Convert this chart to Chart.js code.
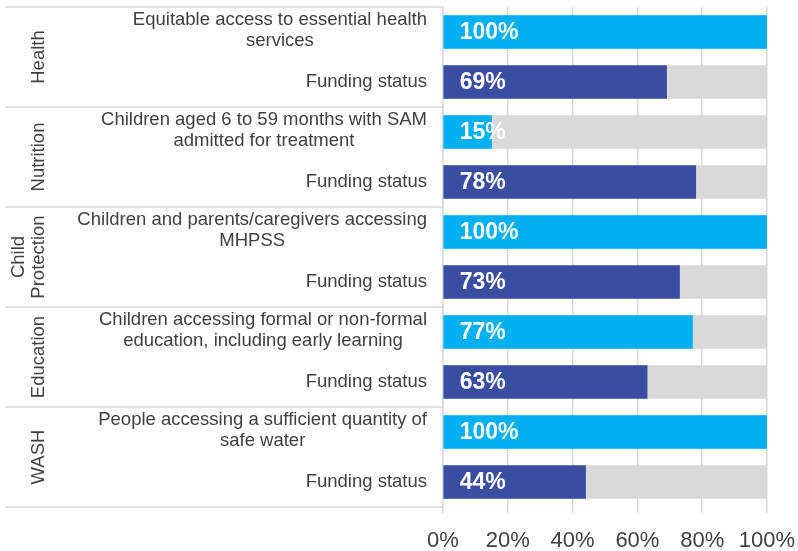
<!DOCTYPE html>
<html><head><meta charset="utf-8">
<script src="https://cdn.jsdelivr.net/npm/chart.js@4/dist/chart.umd.min.js"></script>
<style>html,body{margin:0;padding:0;background:#fff;}#wrap{width:798px;height:551px;position:relative;}</style>
</head><body><div id="wrap"><canvas id="c"></canvas></div>
<script>
const groups = [['Health'], ['Nutrition'], ['Child', 'Protection'], ['Education'], ['WASH']];
const categories = [
  ['Equitable access to essential health', 'services'],
  ['Funding status'],
  ['Children aged 6 to 59 months with SAM', 'admitted for treatment'],
  ['Funding status'],
  ['Children and parents/caregivers accessing', 'MHPSS'],
  ['Funding status'],
  ['Children accessing formal or non-formal', 'education, including early learning'],
  ['Funding status'],
  ['People accessing a sufficient quantity of', 'safe water'],
  ['Funding status']
];
const values = [100, 69, 15, 78, 100, 73, 77, 63, 100, 44];
const totals = [100, 100, 100, 100, 100, 100, 100, 100, 100, 100];
const xTicks = [0, 20, 40, 60, 80, 100];

const LIGHT = '#00B0F0', DARK = '#3A4DA1', GREY = '#D9D9D9', TEXT = '#404040';
const FONT = '"Liberation Sans", Arial, sans-serif';

const labelPlugin = {
  id: 'labels',
  afterDraw(chart) {
    const ctx = chart.ctx, y = chart.scales.y, area = chart.chartArea;
    const half = (y.getPixelForValue(1) - y.getPixelForValue(0)) / 2;
    ctx.save();
    ctx.strokeStyle = GREY; ctx.lineWidth = 1.5;
    for (let g = 0; g <= groups.length; g++) {
      const py = g < groups.length ? y.getPixelForValue(g * 2) - half : y.getPixelForValue(g * 2 - 1) + half;
      ctx.beginPath(); ctx.moveTo(5, py); ctx.lineTo(area.left, py); ctx.stroke();
    }
    ctx.fillStyle = TEXT; ctx.font = '18.5px ' + FONT; ctx.textBaseline = 'middle'; ctx.textAlign = 'center';
    const lh = 21, right = area.left - 16;
    categories.forEach((lines, i) => {
      const cy = y.getPixelForValue(i);
      const w = Math.max(...lines.map(l => ctx.measureText(l).width));
      const cx = right - w / 2;
      const y0 = (lines.length > 1 ? cy - 2 : cy) - (lines.length - 1) * lh / 2;
      lines.forEach((l, k) => ctx.fillText(l, cx, y0 + k * lh));
    });
    groups.forEach((lines, g) => {
      const cy = (y.getPixelForValue(g * 2) + y.getPixelForValue(g * 2 + 1)) / 2;
      const lh2 = 20;
      lines.forEach((l, k) => {
        const cx = 39 - (lines.length - 1 - k) * lh2;
        ctx.save(); ctx.translate(cx, cy); ctx.rotate(-Math.PI / 2);
        ctx.fillText(l, 0, 0); ctx.restore();
      });
    });
    ctx.restore();
  },
  afterDatasetsDraw(chart) {
    const ctx = chart.ctx;
    const meta = chart.getDatasetMeta(0);
    ctx.save();
    ctx.fillStyle = '#FFFFFF'; ctx.font = 'bold 23px ' + FONT;
    ctx.textAlign = 'left'; ctx.textBaseline = 'middle';
    meta.data.forEach((el, i) => {
      ctx.fillText(values[i] + '%', el.base + 16, el.y + 1);
    });
    ctx.restore();
  }
};

new Chart(document.getElementById('c'), {
  type: 'bar',
  data: {
    labels: categories,
    datasets: [
      { data: values, backgroundColor: values.map((_, i) => i % 2 === 0 ? LIGHT : DARK), order: 0, grouped: false, barThickness: 33 },
      { data: totals, backgroundColor: GREY, order: 1, grouped: false, barThickness: 33 }
    ]
  },
  options: {
    indexAxis: 'y',
    responsive: true,
    maintainAspectRatio: false,
    animation: false,
    events: [],
    layout: { padding: { top: 7, right: 31, left: 0, bottom: 0 } },
    plugins: { legend: { display: false }, tooltip: { enabled: false } },
    scales: {
      y: {
        ticks: { display: false },
        grid: { display: false, drawTicks: false },
        border: { display: true, color: GREY, width: 1.5 },
        afterFit(s) { s.width = 443; s.paddingTop = 0; s.paddingBottom = 0; }
      },
      x: {
        min: 0, max: 100,
        afterBuildTicks(s) { s.ticks = xTicks.map(v => ({ value: v })); },
        ticks: { callback: v => v + '%', color: TEXT, font: { size: 22, family: FONT }, padding: 15, maxRotation: 0 },
        grid: { color: GREY, lineWidth: 1.5, tickLength: 6 },
        border: { display: false },
        afterFit(s) { s.height = 44; s.paddingLeft = 0; s.paddingRight = 0; }
      }
    }
  },
  plugins: [labelPlugin]
});
</script></body></html>
